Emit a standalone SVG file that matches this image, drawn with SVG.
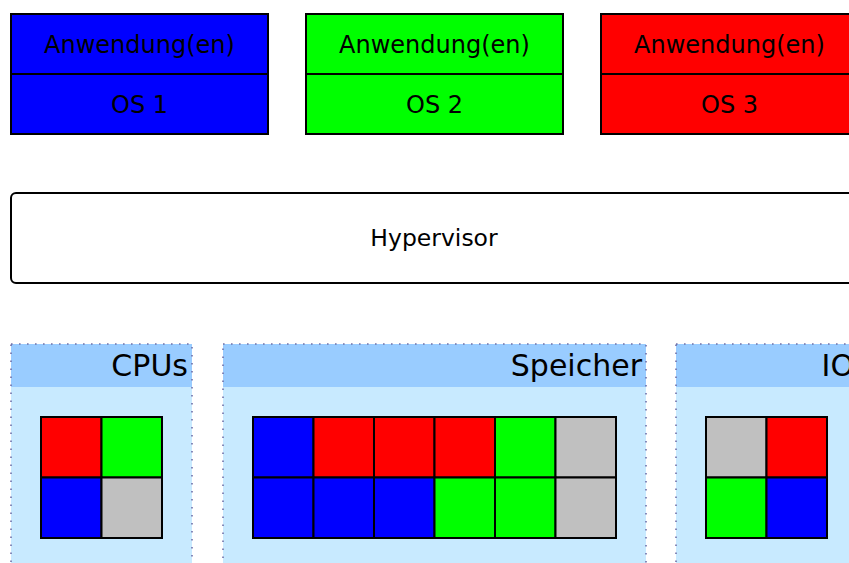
<svg xmlns="http://www.w3.org/2000/svg" width="849" height="563" viewBox="0 0 849 563">
  <style>
    text { font-family: "DejaVu Sans", "Liberation Sans", sans-serif; fill: #000; }
    .vm rect, .vm line { stroke: #000; stroke-width: 2; }
    .lbl { font-size: 24px; text-anchor: middle; }
    .hv-lbl { font-size: 23.5px; text-anchor: middle; }
    .hv { fill: #fff; stroke: #000; stroke-width: 2; }
    .pool-body { fill: #c8eaff; }
    .pool-head { fill: #99ccff; }
    .pool-border { fill: none; stroke: #7070a8; stroke-width: 1.6; stroke-dasharray: 1.6 6.4; }
    .pool-title { font-size: 30px; text-anchor: end; }
    .cell { stroke: #000; stroke-width: 2; }
    .b { fill: #0000ff; } .r { fill: #ff0000; } .g { fill: #00ff00; } .x { fill: #c0c0c0; }
  </style>

  <!-- virtual machines -->
  <g id="vm1" class="vm">
    <rect x="11" y="14" width="257" height="120" fill="#0000ff"/>
    <line x1="11" y1="74" x2="268" y2="74"/>
    <text class="lbl" x="139.5" y="53">Anwendung(en)</text>
    <text class="lbl" x="139.5" y="113">OS 1</text>
  </g>
  <g id="vm2" class="vm">
    <rect x="306" y="14" width="257" height="120" fill="#00ff00"/>
    <line x1="306" y1="74" x2="563" y2="74"/>
    <text class="lbl" x="434.5" y="53">Anwendung(en)</text>
    <text class="lbl" x="434.5" y="113">OS 2</text>
  </g>
  <g id="vm3" class="vm">
    <rect x="601" y="14" width="257" height="120" fill="#ff0000"/>
    <line x1="601" y1="74" x2="858" y2="74"/>
    <text class="lbl" x="729.5" y="53">Anwendung(en)</text>
    <text class="lbl" x="729.5" y="113">OS 3</text>
  </g>

  <!-- hypervisor layer -->
  <g id="hypervisor">
    <rect class="hv" x="11" y="193" width="847" height="90" rx="5" ry="5"/>
    <text class="hv-lbl" x="434" y="246">Hypervisor</text>
  </g>

  <!-- hardware resource pools -->
  <g id="cpus">
    <rect class="pool-body" x="11" y="344" width="181" height="240"/>
    <rect class="pool-head" x="11" y="344" width="181" height="43"/>
    <rect class="pool-border" x="11" y="344" width="181" height="240"/>
    <text class="pool-title" x="188" y="376">CPUs</text>
    <rect class="cell r" x="41" y="417" width="60.5" height="60.5"/>
    <rect class="cell g" x="101.5" y="417" width="60.5" height="60.5"/>
    <rect class="cell b" x="41" y="477.5" width="60.5" height="60.5"/>
    <rect class="cell x" x="101.5" y="477.5" width="60.5" height="60.5"/>
  </g>

  <g id="speicher">
    <rect class="pool-body" x="223" y="344" width="423" height="240"/>
    <rect class="pool-head" x="223" y="344" width="423" height="43"/>
    <rect class="pool-border" x="223" y="344" width="423" height="240"/>
    <text class="pool-title" x="642" y="376">Speicher</text>
    <rect class="cell b" x="253" y="417" width="60.5" height="60.5"/>
    <rect class="cell r" x="313.5" y="417" width="60.5" height="60.5"/>
    <rect class="cell r" x="374" y="417" width="60.5" height="60.5"/>
    <rect class="cell r" x="434.5" y="417" width="60.5" height="60.5"/>
    <rect class="cell g" x="495" y="417" width="60.5" height="60.5"/>
    <rect class="cell x" x="555.5" y="417" width="60.5" height="60.5"/>
    <rect class="cell b" x="253" y="477.5" width="60.5" height="60.5"/>
    <rect class="cell b" x="313.5" y="477.5" width="60.5" height="60.5"/>
    <rect class="cell b" x="374" y="477.5" width="60.5" height="60.5"/>
    <rect class="cell g" x="434.5" y="477.5" width="60.5" height="60.5"/>
    <rect class="cell g" x="495" y="477.5" width="60.5" height="60.5"/>
    <rect class="cell x" x="555.5" y="477.5" width="60.5" height="60.5"/>
  </g>

  <g id="io">
    <rect class="pool-body" x="676" y="344" width="181" height="240"/>
    <rect class="pool-head" x="676" y="344" width="181" height="43"/>
    <rect class="pool-border" x="676" y="344" width="181" height="240"/>
    <text class="pool-title" x="854" y="376">IO</text>
    <rect class="cell x" x="706" y="417" width="60.5" height="60.5"/>
    <rect class="cell r" x="766.5" y="417" width="60.5" height="60.5"/>
    <rect class="cell g" x="706" y="477.5" width="60.5" height="60.5"/>
    <rect class="cell b" x="766.5" y="477.5" width="60.5" height="60.5"/>
  </g>

  <g id="connectors"/>
</svg>
